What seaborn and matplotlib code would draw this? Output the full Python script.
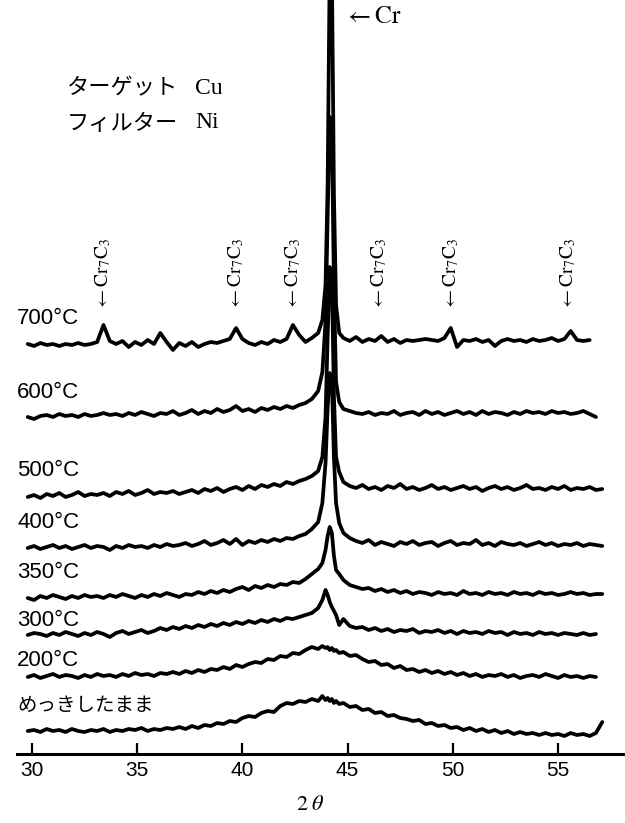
import numpy as np
import pandas as pd
import matplotlib
matplotlib.use("Agg")
import matplotlib.pyplot as plt
import seaborn as sns

nan = np.nan

# 2θ sampling positions
two_theta = [
    29.8, 30.1, 30.4, 30.7, 31.0, 31.3, 31.6, 31.9, 32.2, 32.5,
    32.8, 33.1, 33.4, 33.7, 34.0, 34.3, 34.6, 34.9, 35.2, 35.5,
    35.8, 36.1, 36.4, 36.7, 37.0, 37.3, 37.6, 37.9, 38.2, 38.5,
    38.8, 39.1, 39.4, 39.7, 40.0, 40.3, 40.6, 40.9, 41.2, 41.5,
    41.8, 42.1, 42.4, 42.7, 43.0, 43.3, 43.6,
    43.8, 43.95, 44.05, 44.15, 44.25, 44.35, 44.45, 44.6, 44.8,
    45.1, 45.4, 45.7, 46.0, 46.3, 46.6, 46.9, 47.2, 47.5, 47.8,
    48.1, 48.4, 48.7, 49.0, 49.3, 49.6, 49.9, 50.2, 50.5, 50.8,
    51.1, 51.4, 51.7, 52.0, 52.3, 52.6, 52.9, 53.2, 53.5, 53.8,
    54.1, 54.4, 54.7, 55.0, 55.3, 55.6, 55.9, 56.2, 56.5, 56.8,
    57.1,
]

h_700 = [
    1, -1, 2, 0, 1, -1, 1, 0, 2, 0,
    1, 3, 20, 4, 1, 4, -2, 3, 0, 5,
    1, 12, 3, -5, 2, -1, 3, -2, 1, 3,
    2, 4, 6, 17, 6, 2, 0, 3, 1, 5,
    3, 6, 20, 10, 3, 7, 12,
    25, 60, 160, 380, 380, 150, 40, 12, 7,
    4, 8, 3, 6, 4, 9, 3, 6, 2, 5,
    4, 5, 6, 5, 4, 7, 17, -2, 5, 4,
    6, 3, 5, -1, 4, 6, 4, 5, 3, 6,
    4, 5, 7, 4, 6, 14, 5, 4, 5, nan,
    nan,
]
h_600 = [
    0, -2, 1, 2, 0, 3, 1, 2, 0, 3,
    1, 2, 4, 2, 3, 1, 4, 2, 5, 3,
    1, 4, 3, 6, 2, 4, 7, 3, 6, 4,
    8, 5, 7, 11, 6, 8, 5, 9, 7, 10,
    8, 11, 9, 12, 14, 18, 26,
    45, 95, 200, 300, 290, 130, 35, 15, 8,
    6, 4, 3, 5, 2, 4, 3, 6, 2, 4,
    5, 2, 6, 3, 5, 2, 4, 6, 3, 5,
    2, 6, 3, 5, 4, 2, 5, 3, 6, 4,
    5, 3, 6, 4, 5, 3, 4, 6, 3, 0,
    nan,
]
h_500 = [
    0, 2, -1, 3, 1, 4, 0, 2, 5, 1,
    3, 2, 4, 1, 5, 3, 6, 2, 4, 7,
    3, 5, 4, 6, 3, 5, 7, 4, 8, 6,
    9, 5, 8, 10, 7, 11, 8, 12, 10, 13,
    11, 15, 13, 16, 18, 21, 26,
    40, 80, 160, 230, 220, 100, 40, 25, 15,
    11, 9, 12, 8, 10, 7, 11, 9, 13, 8,
    10, 7, 9, 12, 8, 10, 7, 9, 11, 8,
    10, 6, 9, 11, 8, 10, 7, 9, 12, 8,
    9, 7, 10, 8, 11, 7, 9, 8, 10, 7,
    8,
]
h_400 = [
    0, 2, -1, 1, 3, 0, 2, -1, 1, 3,
    0, 2, 1, -2, 2, 0, 3, 1, 2, 0,
    3, 1, 4, 2, 3, 5, 2, 4, 7, 3,
    5, 8, 4, 9, 3, 7, 5, 8, 6, 9,
    7, 10, 9, 12, 14, 19, 26,
    45, 85, 140, 175, 170, 90, 45, 25, 15,
    10, 7, 5, 8, 3, 6, 4, 2, 6, 4,
    7, 3, 5, 6, 2, 5, 7, 3, 5, 4,
    8, 3, 5, 2, 6, 4, 3, 5, 2, 4,
    6, 3, 5, 2, 4, 3, 5, 2, 4, 3,
    2,
]
h_350 = [
    0, -2, 2, 0, 3, 1, -1, 2, 0, 3,
    1, 2, 0, 3, 1, 4, 2, 0, 3, 1,
    4, 2, 5, 3, 1, 4, 3, 6, 4, 7,
    5, 8, 6, 9, 11, 8, 12, 10, 13, 11,
    14, 13, 16, 15, 19, 24, 29,
    35, 48, 62, 71, 65, 42, 28, 24, 18,
    13, 11, 9, 10, 7, 9, 6, 8, 5, 7,
    4, 6, 5, 3, 6, 4, 5, 3, 7, 4,
    5, 3, 6, 4, 5, 3, 6, 4, 5, 3,
    6, 4, 5, 3, 4, 6, 4, 5, 3, 4,
    4,
]
h_300 = [
    0, 2, 1, -1, 2, 0, 3, 1, -1, 2,
    0, 3, 1, -2, 2, 4, 1, 3, 5, 2,
    4, 7, 5, 8, 6, 9, 7, 10, 8, 11,
    9, 12, 10, 13, 11, 14, 12, 15, 13, 16,
    14, 17, 16, 18, 20, 22, 27,
    35, 45, 40, 33, 28, 24, 20, 10, 16,
    9, 7, 8, 5, 7, 4, 6, 3, 5, 4,
    6, 2, 4, 3, 5, 2, 4, 1, 4, 2,
    3, 1, 4, 2, 3, 0, 3, 1, 2, 0,
    3, 1, 2, 0, 2, 1, 0, 2, 0, 1,
    nan,
]
h_200 = [
    0, 2, -1, 1, 3, 0, 2, 1, -1, 2,
    0, 3, 1, 2, 0, 3, 1, 4, 2, 3,
    1, 4, 3, 5, 3, 6, 4, 7, 5, 8,
    7, 10, 8, 12, 10, 13, 15, 14, 18, 17,
    21, 20, 24, 23, 27, 30, 28,
    31, 29, 30, 27, 29, 26, 27, 24, 25,
    21, 22, 18, 15, 16, 12, 13, 9, 11, 7,
    8, 5, 7, 4, 6, 3, 5, 2, 4, 1,
    3, 0, 2, 1, 3, 0, 2, -1, 1, 2,
    0, 3, 1, -1, 2, 0, 1, -1, 1, 0,
    nan,
]
h_plated = [
    0, 1, -1, 2, 0, 1, -1, 2, 0, -1,
    1, 0, 2, -1, 1, 0, 2, 1, 3, 0,
    2, 1, 3, 2, 4, 2, 5, 3, 6, 5,
    8, 7, 10, 9, 13, 15, 14, 18, 20, 19,
    25, 28, 27, 30, 29, 32, 30,
    35, 31, 33, 30, 32, 28, 30, 27, 28,
    24, 25, 21, 22, 18, 19, 15, 16, 13, 12,
    10, 11, 7, 8, 5, 6, 3, 4, 1, 3,
    0, 2, -1, 1, -2, 0, -3, -1, -3, -2,
    -4, -2, -4, -3, -5, -2, -4, -3, -5, -2,
    9,
]

samples = ["700°C", "600°C", "500°C", "400°C", "350°C", "300°C", "200°C", "めっきしたまま"]
series = [h_700, h_600, h_500, h_400, h_350, h_300, h_200, h_plated]
offsets = [409, 337, 257, 206, 156, 119, 77, 23]
label_y = [436, 361, 284, 231, 181, 134, 94, 49]
ticks = [30, 35, 40, 45, 50, 55]
cr7c3_pos = [33.4, 39.7, 42.4, 46.5, 49.9, 55.5]

rows = []
for name, off, vals in zip(samples, offsets, series):
    for x, v in zip(two_theta, vals):
        rows.append((name, x, off + v))
df = pd.DataFrame(rows, columns=["sample", "two_theta", "intensity"]).dropna()

sns.set_theme(style="white")
plt.rcParams["font.family"] = ["Liberation Sans", "Noto Sans CJK JP", "DejaVu Sans"]
plt.rcParams["mathtext.fontset"] = "stix"

fig = plt.figure(figsize=(6.25, 8.23), dpi=100)
ax = fig.add_axes([17 / 625, 69 / 823, 608 / 625, 754 / 823])

sns.lineplot(data=df, x="two_theta", y="intensity", units="sample", estimator=None,
             color="black", lw=2.7, sort=False, ax=ax, legend=False)

ax.set_xlim(29.29, 58.18)
ax.set_ylim(0, 754)
for s in ["left", "top", "right"]:
    ax.spines[s].set_visible(False)
ax.spines["bottom"].set_color("black")
ax.spines["bottom"].set_linewidth(2.2)
ax.set_xticks(ticks)
ax.set_xticklabels([str(t) for t in ticks])
ax.set_yticks([])
ax.tick_params(axis="x", direction="in", length=8, width=1.6, colors="black",
               labelsize=15, pad=5, bottom=True)
ax.set_xlabel("")
ax.set_ylabel("")

for name, ly in zip(samples, label_y):
    if name == "めっきしたまま":
        ax.text(29.33, ly, name, ha="left", va="center", fontsize=14,
                family=["Noto Sans CJK JP", "DejaVu Sans"], color="black")
    else:
        ax.text(29.29, ly, name, ha="left", va="center", fontsize=16,
                family=["Liberation Sans", "DejaVu Sans"], color="black")

for p in cr7c3_pos:
    ax.text(p, 754 - 310, r"$\leftarrow\mathrm{Cr_7C_3}$", rotation=90,
            ha="center", va="bottom", fontsize=14, color="black")

ax.text(44.85, 754 - 16, r"$\leftarrow\mathrm{Cr}$", ha="left", va="center",
        fontsize=18, color="black")

ax.text(31.66, 754 - 88, "ターゲット", ha="left", va="center", fontsize=16,
        family=["Noto Sans CJK JP", "DejaVu Sans"], color="black")
ax.text(37.75, 754 - 88, "Cu", ha="left", va="center", fontsize=17,
        family=["Liberation Serif", "DejaVu Serif"], color="black")
ax.text(31.66, 754 - 123, "フィルター", ha="left", va="center", fontsize=16,
        family=["Noto Sans CJK JP", "DejaVu Sans"], color="black")
ax.text(37.75, 754 - 123, "Ni", ha="left", va="center", fontsize=17,
        family=["Liberation Serif", "DejaVu Serif"], color="black")

fig.text(310 / 625, 1 - 805 / 823, r"$2\;\theta$", ha="center", va="center",
         fontsize=16, color="black")

fig.savefig("out.png", dpi=100, facecolor="white")
